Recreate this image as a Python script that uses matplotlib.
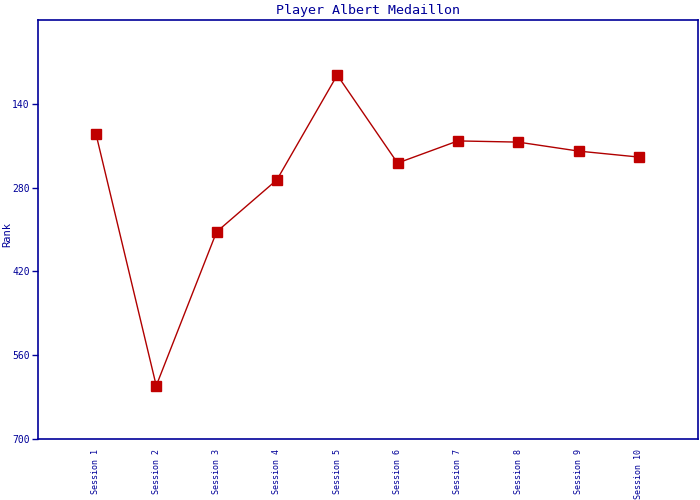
import matplotlib
matplotlib.use("Agg")
import matplotlib.pyplot as plt

sessions = ["Session %d" % i for i in range(1, 11)]
ranks = [190, 611, 354, 267, 92, 239, 202, 204, 219, 229]
yticks = [140, 280, 420, 560, 700]

navy = "#000099"
red = "#c00000"

plt.rcParams['font.family'] = ['DejaVu Sans Mono']

fig = plt.figure(figsize=(7, 5), dpi=100)
ax = fig.add_axes([38/700, 61/500, 660/700, 419/500])

x = list(range(1, len(sessions) + 1))
ax.plot(x, ranks, color="#b00000", lw=1.0, marker="s", markersize=6.5,
        markerfacecolor=red, markeredgecolor=red)

ax.set_xlim(0.04, 10.98)
ax.set_ylim(700, 0)
ax.set_yticks(yticks)
ax.set_yticklabels([str(t) for t in yticks], fontsize=7, color=navy)
ax.set_xticks(x)
ax.set_xticklabels(sessions, rotation=90, fontsize=6, color=navy, va="top")
ax.tick_params(axis="x", length=0, pad=7)
ax.tick_params(axis="y", length=4, color=navy, width=1, pad=2)
for s in ax.spines.values():
    s.set_color(navy)
    s.set_linewidth(1.2)

ax.set_ylabel("Rank", fontsize=7.5, color=navy, va="center")
ax.yaxis.set_label_coords(-0.047, 0.487)
ax.set_title("Player Albert Medaillon", fontsize=9.6, color=navy, pad=4)

fig.savefig("out.png", dpi=100)
